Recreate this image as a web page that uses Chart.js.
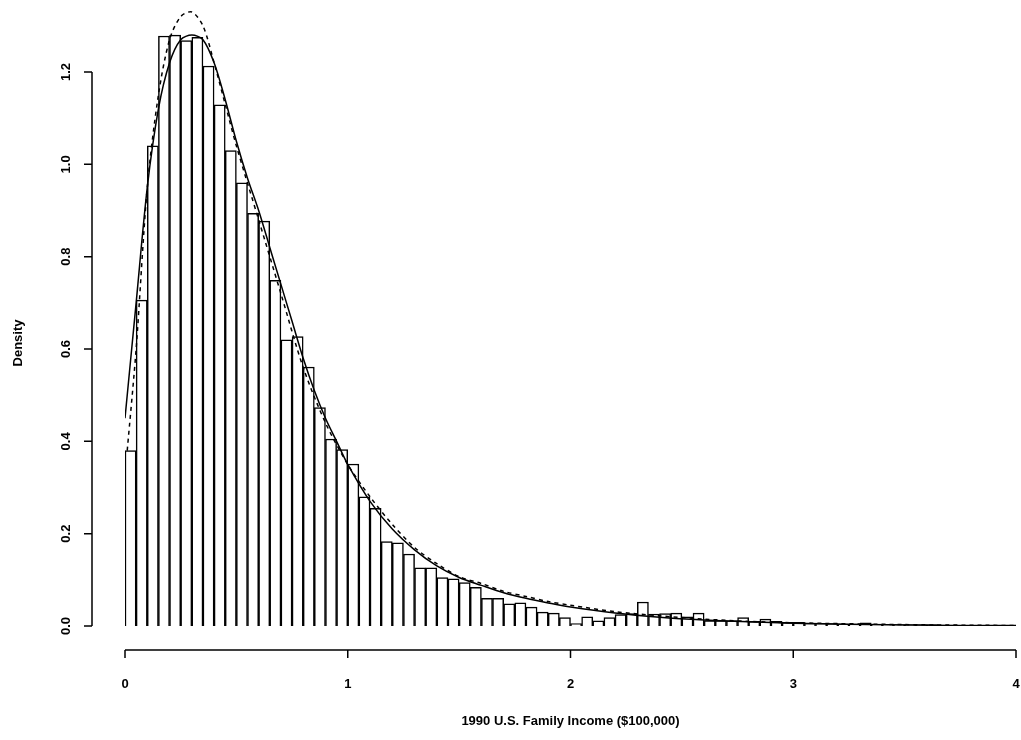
<!DOCTYPE html>
<html>
<head>
<meta charset="utf-8">
<script src="https://cdn.jsdelivr.net/npm/chart.js@4"></script>
<style>
  html, body { margin: 0; padding: 0; background: #fff; }
  #wrap { width: 1021px; height: 740px; position: relative; }
</style>
</head>
<body>
<div id="wrap"><canvas id="c"></canvas></div>
<script>
// histogram bins, width 0.05 from 0 to 4
const binWidth = 0.05;
const density = [
  0.38, 0.706, 1.04, 1.278, 1.28, 1.268, 1.275, 1.213, 1.129, 1.03,
  0.96, 0.894, 0.877, 0.749, 0.62, 0.627, 0.561, 0.473, 0.405, 0.382,
  0.351, 0.28, 0.255, 0.183, 0.18, 0.156, 0.126, 0.126, 0.105, 0.102,
  0.094, 0.084, 0.06, 0.06, 0.048, 0.05, 0.041, 0.03, 0.028, 0.018,
  0.005, 0.02, 0.011, 0.018, 0.025, 0.027, 0.052, 0.026, 0.027, 0.028,
  0.02, 0.028, 0.012, 0.012, 0.012, 0.018, 0.01, 0.015, 0.01, 0.008,
  0.008, 0.006, 0.006, 0.005, 0.004, 0.004, 0.007, 0.003, 0.003, 0.003,
  0.003, 0.003, 0.003, 0.001, 0.001, 0.001, 0.001, 0.001, 0.001, 0.001
];
// solid curve (kernel density)
const kdeX = [0, 0.05, 0.1, 0.15, 0.2, 0.25, 0.3, 0.35, 0.4, 0.45, 0.5, 0.55, 0.6, 0.65, 0.7, 0.75, 0.8, 0.85, 0.9, 0.95, 1.0, 1.1, 1.2, 1.3, 1.4, 1.5, 1.6, 1.7, 1.8, 1.9, 2.0, 2.2, 2.4, 2.6, 2.8, 3.0, 3.5, 4.0];
const kdeY = [0.45, 0.7, 0.95, 1.12, 1.22, 1.27, 1.28, 1.27, 1.22, 1.14, 1.05, 0.97, 0.9, 0.82, 0.74, 0.66, 0.58, 0.51, 0.45, 0.4, 0.35, 0.27, 0.21, 0.165, 0.13, 0.105, 0.088, 0.072, 0.06, 0.05, 0.041, 0.028, 0.019, 0.013, 0.009, 0.006, 0.002, 0.001];
// dashed curve (fitted)
const fitX = [0.01, 0.05, 0.1, 0.15, 0.2, 0.25, 0.3, 0.35, 0.4, 0.45, 0.5, 0.6, 0.7, 0.8, 0.9, 1.0, 1.1, 1.2, 1.3, 1.4, 1.5, 1.6, 1.7, 1.8, 1.9, 2.0, 2.2, 2.4, 2.6, 2.8, 3.0, 3.5, 4.0];
const fitY = [0.38, 0.6, 0.95, 1.15, 1.27, 1.32, 1.33, 1.3, 1.22, 1.13, 1.04, 0.88, 0.72, 0.56, 0.44, 0.35, 0.28, 0.22, 0.17, 0.135, 0.107, 0.092, 0.075, 0.064, 0.053, 0.045, 0.031, 0.022, 0.015, 0.01, 0.007, 0.003, 0.001];
const xTicks = [0, 1, 2, 3, 4];
const yTicks = [0.0, 0.2, 0.4, 0.6, 0.8, 1.0, 1.2];
const xTitle = '1990 U.S. Family Income ($100,000)';
const yTitle = 'Density';

const FONT = 'bold 13px "Liberation Sans", Arial, sans-serif';

// R-style detached axes
const rAxes = {
  id: 'rAxes',
  afterDraw(chart) {
    const {ctx, scales: {x, y}} = chart;
    ctx.save();
    ctx.strokeStyle = '#000';
    ctx.fillStyle = '#000';
    ctx.lineWidth = 1.5;
    ctx.font = FONT;
    const axY = 650, axX = 92;
    ctx.beginPath();
    ctx.moveTo(x.getPixelForValue(xTicks[0]), axY);
    ctx.lineTo(x.getPixelForValue(xTicks[xTicks.length - 1]), axY);
    xTicks.forEach(t => {
      const px = x.getPixelForValue(t);
      ctx.moveTo(px, axY); ctx.lineTo(px, axY + 8);
    });
    ctx.moveTo(axX, y.getPixelForValue(yTicks[0]));
    ctx.lineTo(axX, y.getPixelForValue(yTicks[yTicks.length - 1]));
    yTicks.forEach(t => {
      const py = y.getPixelForValue(t);
      ctx.moveTo(axX, py); ctx.lineTo(axX - 8, py);
    });
    ctx.stroke();
    ctx.textAlign = 'center';
    ctx.textBaseline = 'middle';
    xTicks.forEach(t => ctx.fillText(String(t), x.getPixelForValue(t), 684));
    ctx.fillText(xTitle, (x.left + x.right) / 2, 721);
    yTicks.forEach(t => {
      ctx.save();
      ctx.translate(66, y.getPixelForValue(t));
      ctx.rotate(-Math.PI / 2);
      ctx.fillText(t.toFixed(1), 0, 0);
      ctx.restore();
    });
    ctx.save();
    ctx.translate(18, (y.top + y.getPixelForValue(0)) / 2 + 30);
    ctx.rotate(-Math.PI / 2);
    ctx.fillText(yTitle, 0, 0);
    ctx.restore();
    ctx.restore();
  }
};

new Chart(document.getElementById('c'), {
  type: 'bar',
  data: {
    datasets: [
      {
        type: 'line',
        data: fitX.map((v, i) => ({x: v, y: fitY[i]})),
        borderColor: '#000', borderWidth: 1.5, borderDash: [4, 4],
        pointRadius: 0, tension: 0.3, fill: false, order: 0
      },
      {
        type: 'line',
        data: kdeX.map((v, i) => ({x: v, y: kdeY[i]})),
        borderColor: '#000', borderWidth: 1.5,
        pointRadius: 0, tension: 0.3, fill: false, order: 0
      },
      {
        type: 'bar',
        data: density.map((d, i) => ({x: (i + 0.5) * binWidth, y: d})),
        backgroundColor: '#fff', borderColor: '#000', borderWidth: 1.5,
        barPercentage: 1, categoryPercentage: 1, order: 1
      }
    ]
  },
  options: {
    responsive: true,
    maintainAspectRatio: false,
    animation: false,
    layout: { padding: { left: 125, right: 5, top: 0, bottom: 114 } },
    plugins: { legend: { display: false }, tooltip: { enabled: false } },
    scales: {
      x: { type: 'linear', min: 0, max: 4, display: false, offset: false },
      y: { min: 0, max: 1.356, display: false }
    }
  },
  plugins: [rAxes]
});
</script>
</body>
</html>
